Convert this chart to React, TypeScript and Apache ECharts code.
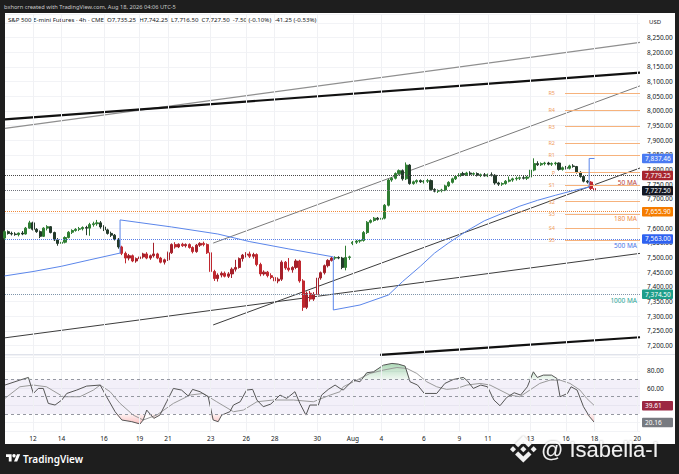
import React, { useEffect, useRef } from "react";
import * as echarts from "echarts";

// ---------------- DATA ----------------
// 4h bars, index 0..166 ; [open, high, low, close]
const ohlc: [number, number, number, number][] = [
  [7566, 7592, 7560, 7588], [7588, 7592, 7578, 7582], [7582, 7588, 7575, 7580], [7580, 7586, 7574, 7578],
  [7578, 7585, 7572, 7583], [7583, 7590, 7576, 7580], [7580, 7604, 7578, 7600], [7600, 7625, 7598, 7618],
  [7618, 7622, 7592, 7596], [7596, 7600, 7584, 7588], [7588, 7592, 7566, 7572], [7572, 7603, 7570, 7600],
  [7600, 7610, 7592, 7605], [7605, 7607, 7582, 7585], [7585, 7588, 7556, 7560], [7560, 7566, 7540, 7548],
  [7548, 7556, 7532, 7552], [7552, 7572, 7548, 7568], [7568, 7590, 7565, 7586], [7586, 7596, 7580, 7592],
  [7592, 7600, 7588, 7596], [7596, 7604, 7590, 7598], [7598, 7606, 7592, 7602], [7602, 7608, 7576, 7600],
  [7600, 7618, 7574, 7612], [7612, 7622, 7605, 7615], [7615, 7628, 7608, 7618], [7618, 7624, 7598, 7604],
  [7604, 7610, 7590, 7594], [7594, 7598, 7578, 7582], [7582, 7588, 7570, 7576], [7576, 7580, 7558, 7562],
  [7562, 7566, 7530, 7536],
  [7536, 7540, 7508, 7514], [7514, 7520, 7480, 7498], [7498, 7512, 7490, 7506], [7506, 7510, 7484, 7488],
  [7488, 7500, 7482, 7496], [7496, 7508, 7488, 7502], [7502, 7516, 7496, 7512], [7512, 7518, 7494, 7498],
  [7498, 7510, 7492, 7506], [7506, 7550, 7500, 7512], [7512, 7516, 7494, 7498], [7498, 7502, 7480, 7484],
  [7484, 7496, 7476, 7492], [7492, 7520, 7488, 7516], [7516, 7548, 7512, 7544], [7544, 7552, 7530, 7536],
  [7536, 7548, 7532, 7545], [7545, 7550, 7536, 7540], [7540, 7548, 7534, 7544], [7544, 7548, 7530, 7534],
  [7534, 7538, 7514, 7520], [7520, 7546, 7516, 7542], [7542, 7552, 7536, 7548], [7548, 7554, 7538, 7544],
  [7544, 7548, 7512, 7516], [7516, 7520, 7446, 7452], [7452, 7458, 7420, 7428], [7428, 7446, 7418, 7440],
  [7440, 7452, 7432, 7446], [7446, 7452, 7432, 7436], [7436, 7450, 7430, 7444], [7444, 7466, 7430, 7460],
  [7460, 7492, 7452, 7466], [7466, 7500, 7462, 7496], [7496, 7512, 7486, 7508], [7508, 7518, 7500, 7512],
  [7512, 7520, 7498, 7504], [7504, 7516, 7496, 7510], [7510, 7514, 7470, 7476], [7476, 7482, 7436, 7444],
  [7444, 7456, 7438, 7450], [7450, 7454, 7432, 7438], [7438, 7446, 7426, 7432], [7432, 7438, 7414, 7420],
  [7420, 7432, 7412, 7426], [7426, 7490, 7420, 7484], [7484, 7488, 7458, 7464], [7464, 7498, 7452, 7458],
  [7458, 7470, 7448, 7466], [7466, 7494, 7460, 7488], [7488, 7492, 7414, 7420], [7420, 7426, 7318, 7330],
  [7330, 7384, 7324, 7378], [7378, 7386, 7350, 7358], [7358, 7382, 7352, 7374], [7374, 7436, 7368, 7430],
  [7430, 7452, 7424, 7448], [7448, 7476, 7442, 7472], [7472, 7494, 7466, 7490], [7490, 7502, 7486, 7498],
  [7498, 7504, 7492, 7500], [7500, 7504, 7494, 7498], [7498, 7502, 7460, 7466], [7466, 7540, 7456, 7500],
  [7500, 7506, 7492, 7502], [7548, 7556, 7542, 7552], [7552, 7560, 7546, 7556], [7556, 7562, 7550, 7558],
  [7558, 7590, 7554, 7585], [7585, 7624, 7580, 7620], [7620, 7630, 7616, 7626], [7626, 7638, 7622, 7634],
  [7634, 7638, 7626, 7630], [7630, 7638, 7624, 7634], [7634, 7682, 7630, 7678], [7678, 7768, 7674, 7764],
  [7764, 7774, 7758, 7770], [7770, 7790, 7766, 7786], [7786, 7800, 7782, 7796], [7796, 7800, 7762, 7768],
  [7768, 7824, 7764, 7815], [7815, 7818, 7748, 7752], [7752, 7762, 7748, 7758], [7758, 7766, 7752, 7762],
  [7762, 7766, 7754, 7758], [7758, 7764, 7752, 7760], [7760, 7768, 7754, 7762], [7762, 7766, 7728, 7732],
  [7732, 7736, 7722, 7726], [7726, 7732, 7720, 7728], [7728, 7734, 7722, 7730], [7730, 7748, 7726, 7744],
  [7744, 7760, 7740, 7756], [7756, 7772, 7752, 7768], [7768, 7780, 7764, 7776], [7776, 7790, 7772, 7786],
  [7786, 7792, 7778, 7782], [7782, 7792, 7778, 7788], [7788, 7794, 7780, 7784], [7784, 7790, 7778, 7786],
  [7786, 7790, 7776, 7780], [7780, 7786, 7774, 7782], [7782, 7788, 7776, 7778], [7778, 7786, 7774, 7782],
  [7782, 7790, 7776, 7780], [7780, 7784, 7748, 7754], [7754, 7758, 7744, 7750], [7750, 7756, 7744, 7752],
  [7752, 7764, 7748, 7760], [7760, 7776, 7756, 7764], [7764, 7772, 7758, 7768], [7768, 7776, 7762, 7770],
  [7770, 7776, 7764, 7772], [7772, 7778, 7766, 7770], [7770, 7778, 7764, 7774], [7774, 7800, 7770, 7798],
  [7798, 7838, 7794, 7820], [7820, 7828, 7812, 7816], [7816, 7824, 7812, 7820], [7820, 7826, 7814, 7822],
  [7822, 7826, 7814, 7818], [7818, 7824, 7812, 7820], [7820, 7826, 7814, 7822], [7822, 7824, 7796, 7800],
  [7800, 7810, 7796, 7806], [7806, 7812, 7800, 7804], [7804, 7816, 7800, 7812], [7812, 7818, 7806, 7810],
  [7810, 7812, 7786, 7790], [7790, 7794, 7772, 7776], [7776, 7780, 7756, 7760], [7760, 7764, 7752, 7757],
  [7757, 7760, 7730, 7735.25], [7735.25, 7742.25, 7716.5, 7727.5],
];
// bars painted in the bearish regime colour
const redRanges: [number, number][] = [[33, 92], [165, 166]];

// trailing (stop) line, [bar, price]
const trailLine: [number, number][] = [
  [0, 7437], [8, 7452], [16, 7470], [24, 7492], [32.5, 7515], [32.5, 7628], [47, 7604], [60, 7580],
  [69, 7554], [80, 7529], [92.5, 7502], [92.5, 7321], [100, 7338], [108, 7372], [112, 7418], [117, 7470],
  [121, 7515], [125, 7550], [130, 7590], [135, 7625], [140, 7650], [145, 7675], [150, 7695], [155, 7712],
  [160, 7728], [164.5, 7740], [164.5, 7837.46], [166, 7837.46],
];
const trailLast = 7837.46;

// hand-drawn trend lines: [bar, price] end points
const grayTopLine: [number, number][] = [[0.1, 7940], [178.8, 8233]];
const blackTopLine: [number, number][] = [[0.1, 7971], [178.8, 8130]];
const channelUpper: [number, number][] = [[58.7, 7549], [178.8, 8085]];
const channelLower: [number, number][] = [[58.7, 7270], [178.8, 7805]];
const lowerTrend: [number, number][] = [[0.1, 7226], [178.8, 7514]];
const blackBottomLine: [number, number][] = [[105.7, 7168], [178.8, 7228]];

// moving averages / price lines
const maNames = ["50 MA", "180 MA", "500 MA", "1000 MA"];
const maValues = [7779.25, 7655.9, 7563.0, 7374.5];
const lastPrice = 7727.5;

// pivot points
const pivotNames = ["R5", "R4", "R3", "R2", "R1", "P", "S1", "S2", "S3", "S4", "S5"];
const pivotValues = [8060, 8003, 7946, 7891, 7848, 7789, 7747, 7690, 7647, 7600, 7559];
const pivotStartBar = 157.7;

// price axis
const priceTicks = [7200, 7250, 7300, 7350, 7400, 7450, 7500, 7550, 7600, 7650, 7700, 7750, 7800, 7850,
  7900, 7950, 8000, 8050, 8100, 8150, 8200, 8250];
const priceMin = 7160;
const priceMax = 8330;

// time axis
const dateLabelIdx = [8, 16, 28, 38, 46, 58, 68, 76, 88, 98, 106, 118, 128, 136, 148, 158, 166, 178];
const dateLabels = ["12", "14", "16", "19", "21", "23", "26", "28", "30", "Aug", "4", "6", "9", "11", "13", "16", "18", "20"];
const barMin = 0.12;
const barMax = 178.8;

// RSI [bar, value]
const rsiLine: [number, number][] = [
  [0.1, 63.5], [4.3, 69.2], [6.7, 72.3], [8.1, 53.8], [9.5, 59.6], [10.9, 59.6], [12.3, 42.3], [14.2, 40.4],
  [16.1, 46.2], [17.5, 53.8], [20.3, 57.7], [23.1, 62.3], [26.9, 63.5], [28.7, 50], [31.1, 32.7], [33, 23.1],
  [35.8, 21.2], [38.1, 18.5], [39, 23.1], [40, 34.6], [42, 25], [43.7, 28.8], [45.6, 44.2], [47.5, 59.6],
  [49.8, 57.7], [51.7, 50.8], [52.9, 58.5], [55, 55.8], [57.3, 50], [58.7, 23.1], [60.1, 21.2], [61.1, 28.8],
  [63.4, 32.7], [64.4, 40.4], [66.3, 44.2], [68.1, 57.7], [69.8, 58.5], [71, 46.2], [72.8, 38.5], [74.9, 41.5],
  [77.5, 51.9], [79.4, 48.1], [81.7, 55.8], [83.1, 42.3], [84.8, 28.8], [85.9, 40.4], [88.3, 40.4], [89.2, 51.9],
  [91.1, 58.5], [93, 63.5], [94.4, 59.6], [95.3, 57.7], [98.1, 69.2], [100, 67.3], [101.9, 77.7], [103.8, 78.8],
  [106.6, 86.5], [109, 88.5], [110.8, 87.7], [112.7, 85.4], [114.1, 67.3], [116.2, 63.5], [118.1, 53.8],
  [121.6, 53.8], [123.9, 65.4], [126.3, 70], [129.1, 72.3], [130.2, 68.5], [131.9, 59.6], [134, 63.5],
  [135.9, 61.5], [137.7, 46.2], [139.4, 39.6], [141.3, 49.2], [143.4, 54.6], [145.2, 51.9], [147.1, 61.5],
  [148.8, 78.8], [149.9, 72.3], [151.6, 75], [153.9, 75], [155.4, 71.2], [156.3, 50], [158.4, 53.8],
  [159.4, 61.5], [161.1, 57.7], [162.9, 38.5], [164.6, 26.9], [166, 20.16],
];
const rsiSignal: [number, number][] = [
  [0.1, 48.1], [4.3, 61.5], [8.1, 63.5], [11.8, 61.5], [16.5, 50], [21.2, 50], [25, 57.7], [26.9, 63.5],
  [29.7, 55.8], [32.5, 42.3], [36.2, 28.8], [39, 23.1], [42.8, 28.8], [47.5, 42.3], [52.2, 51.9], [55.9, 53.8],
  [59.7, 44.2], [64.4, 32.7], [67.2, 34.6], [71, 44.2], [75.6, 46.2], [81.3, 46.2], [86.9, 44.2], [91.6, 51.9],
  [94.4, 55.8], [95.3, 61.5], [99.1, 69.2], [102.8, 76.9], [106.6, 80.8], [110.4, 83.8], [113.2, 82.7],
  [116, 76.9], [118.8, 67.3], [121.6, 61.5], [124.4, 58.5], [127.2, 59.6], [130.1, 63.5], [133.8, 65.4],
  [136.6, 63.5], [139.4, 57.7], [142.2, 51.9], [145, 50], [147.8, 57.7], [150.6, 65.4], [153.5, 69.2],
  [156.3, 69.2], [159.1, 65.4], [161.9, 57.7], [163.8, 48.1], [166, 39.61],
];
const rsiLevels = [70, 50, 30];
const rsiTicks = [60, 80];
const rsiLast = 20.16;
const rsiSignalLast = 39.61;

// ---------------- SHAPES ----------------
const BINANCE_D =
  "M38.73 53.2L63.32 28.62L87.92 53.22L102.22 38.91L63.32 0L24.42 38.9L38.73 53.2ZM0 63.31L14.3 49L28.61 63.31L14.3 77.61ZM38.73 73.41L63.32 98L87.92 73.4L102.23 87.69L63.33 126.6L24.42 87.72L38.73 73.41ZM98.28 63.31L112.58 49L126.89 63.3L112.58 77.62ZM77.83 63.3L63.32 48.78L48.81 63.3L63.32 77.82Z";
const TV_D = "M14 22H7V11H0V4h14v18zM28 22h-8l7.5-18h8L28 22z";
echarts.graphic.registerShape("binanceLogo", echarts.graphic.extendPath(BINANCE_D, {}) as any);
echarts.graphic.registerShape("tvLogo", echarts.graphic.extendPath(TV_D, {}) as any);

const FONT = "'Noto Sans', 'DejaVu Sans', sans-serif";
const WM_FONT = "'Liberation Sans', Arial, sans-serif";
const fmt = (v: number) =>
  v.toLocaleString("en-US", { minimumFractionDigits: 2, maximumFractionDigits: 2 });

function isRed(i: number) {
  return redRanges.some(([a, b]) => i >= a && i <= b);
}

const HIDDEN_LINE = { color: "rgba(0,0,0,0)", width: 0 };

function buildOption() {
  const bull: number[][] = [];
  const bear: number[][] = [];
  ohlc.forEach(([o, h, l, c], i) => {
    (isRed(i) ? bear : bull).push([i, o, c, l, h]);
  });

  const boxLabel = (text: string, bg: string) => ({
    show: true,
    position: "end",
    formatter: text,
    backgroundColor: bg,
    color: "#ffffff",
    fontSize: 6.5,
    fontFamily: FONT,
    padding: [1.5, 3, 1, 3],
    width: 25,
    borderRadius: 1,
    distance: 2,
    opacity: 1,
  });

  const maBoxColors = ["#a8262f", "#f57c00", "#2f62f0", "#1e9e8a"];
  const maTextColors = ["#b84040", "#ee8a45", "#4d75e6", "#2aa596"];
  const maLineColors = ["#474747", "#f08a3c", "#5a7fe8", "#7f95aa"];

  const hLine = (v: number, color: string) => ({
    yAxis: v,
    lineStyle: { color, type: "dotted", width: 1 },
  });

  const levelMarks: any[] = [];
  maValues.forEach((v, k) => {
    levelMarks.push({ ...hLine(v, maLineColors[k]), label: boxLabel(fmt(v), maBoxColors[k]) });
    levelMarks.push({
      yAxis: v,
      lineStyle: HIDDEN_LINE,
      label: {
        show: true,
        position: "insideEndBottom",
        formatter: maNames[k],
        color: maTextColors[k],
        fontSize: 6.5,
        fontFamily: FONT,
        distance: 3,
        opacity: 1,
      },
    });
  });
  levelMarks.push({ ...hLine(lastPrice, "#70737c"), label: boxLabel(fmt(lastPrice), "#131722") });
  levelMarks.push({ yAxis: trailLast, lineStyle: HIDDEN_LINE, label: boxLabel(fmt(trailLast), "#4b7bf2") });

  const pivotMarks = pivotValues.map((v, k) => [
    {
      coord: [pivotStartBar, v],
      lineStyle: { color: "#f6b27c", width: 1, type: "solid" },
      label: {
        show: true,
        position: "start",
        formatter: pivotNames[k],
        color: "#f0a060",
        fontSize: 5.5,
        fontFamily: FONT,
        distance: 10,
      },
    },
    { coord: [barMax, v] },
  ]);

  const vGrid = (gridIdx: number) => ({
    type: "line",
    xAxisIndex: gridIdx,
    yAxisIndex: gridIdx,
    data: [],
    z: 0,
    silent: true,
    markLine: {
      silent: true,
      symbol: ["none", "none"],
      label: { show: false },
      lineStyle: { color: "#f0f1f4", type: "solid", width: 1 },
      data: dateLabelIdx.map((i) => ({ xAxis: i })),
    },
  });

  const trend = (data: [number, number][], color: string, width: number) => ({
    type: "line",
    xAxisIndex: 0,
    yAxisIndex: 0,
    data,
    symbol: "none",
    silent: true,
    z: 3,
    lineStyle: { color, width },
  });

  return {
    animation: false,
    textStyle: { fontFamily: FONT },
    grid: [
      { left: 5, right: 39, top: 14, height: 343.2 },
      { left: 5, right: 39, top: 355.2, height: 76.15 },
    ],
    xAxis: [
      {
        type: "value", gridIndex: 0, min: barMin, max: barMax,
        axisLine: { show: false }, axisTick: { show: false }, axisLabel: { show: false }, splitLine: { show: false },
      },
      {
        type: "value", gridIndex: 1, min: barMin, max: barMax,
        axisLine: { show: false }, axisTick: { show: false }, splitLine: { show: false },
        axisLabel: {
          customValues: dateLabelIdx,
          formatter: (v: number) => {
            const k = dateLabelIdx.indexOf(Math.round(v));
            return k >= 0 ? dateLabels[k] : "";
          },
          color: "#131722", fontSize: 6.5, fontFamily: FONT, margin: 4,
          showMinLabel: true, showMaxLabel: true,
        },
      },
    ],
    yAxis: [
      {
        type: "value", gridIndex: 0, position: "right", min: priceMin, max: priceMax,
        minInterval: 50, maxInterval: 50,
        axisLine: { show: false }, axisTick: { show: false },
        splitLine: { lineStyle: { color: "#f2f3f6", width: 1 } },
        axisLabel: {
          customValues: priceTicks,
          formatter: (v: number) => fmt(v),
          color: "#131722", fontSize: 6.5, fontFamily: FONT, margin: 7,
        },
      },
      {
        type: "value", gridIndex: 1, position: "right", min: 10, max: 98,
        minInterval: 20, maxInterval: 20,
        axisLine: { show: false }, axisTick: { show: false },
        splitLine: { lineStyle: { color: "#f2f3f6", width: 1 } },
        axisLabel: {
          customValues: rsiTicks,
          formatter: (v: number) => v.toFixed(2),
          color: "#131722", fontSize: 6.5, fontFamily: FONT, margin: 7,
        },
      },
    ],
    series: [
      vGrid(0),
      vGrid(1),
      trend(grayTopLine, "#8f8f8f", 1.2),
      trend(blackTopLine, "#111111", 2.2),
      trend(channelUpper, "#7a7a7a", 1),
      trend(channelLower, "#3c3c3c", 1),
      trend(lowerTrend, "#3c3c3c", 1),
      trend(blackBottomLine, "#111111", 2.2),
      {
        type: "line",
        name: "levels",
        xAxisIndex: 0,
        yAxisIndex: 0,
        data: [],
        z: 6,
        silent: true,
        markLine: {
          silent: true,
          symbol: ["none", "none"],
          data: [...levelMarks, ...pivotMarks],
        },
      },
      {
        type: "candlestick",
        name: "bull",
        xAxisIndex: 0,
        yAxisIndex: 0,
        dimensions: ["x", "open", "close", "lowest", "highest"],
        encode: { x: "x", y: ["open", "close", "lowest", "highest"] },
        data: bull,
        barWidth: 2.6,
        z: 4,
        silent: true,
        itemStyle: {
          color: "#2e7d32", color0: "#233a2a",
          borderColor: "#2e7d32", borderColor0: "#233a2a", borderWidth: 1,
        },
      },
      {
        type: "candlestick",
        name: "bear",
        xAxisIndex: 0,
        yAxisIndex: 0,
        dimensions: ["x", "open", "close", "lowest", "highest"],
        encode: { x: "x", y: ["open", "close", "lowest", "highest"] },
        data: bear,
        barWidth: 2.6,
        z: 4,
        silent: true,
        itemStyle: {
          color: "#a5202a", color0: "#c0282f",
          borderColor: "#a5202a", borderColor0: "#c0282f", borderWidth: 1,
        },
      },
      {
        type: "line",
        name: "trail",
        xAxisIndex: 0,
        yAxisIndex: 0,
        data: trailLine,
        symbol: "none",
        z: 5,
        silent: true,
        lineStyle: { color: "#5b86ea", width: 1 },
      },
      // RSI pane
      {
        type: "line",
        name: "ob",
        xAxisIndex: 1,
        yAxisIndex: 1,
        data: rsiLine.map(([i, v]) => [i, Math.max(v, 70)]),
        symbol: "none",
        silent: true,
        lineStyle: { opacity: 0 },
        areaStyle: {
          origin: 70,
          color: new echarts.graphic.LinearGradient(0, 0, 0, 1, [
            { offset: 0, color: "rgba(56,160,80,0.6)" },
            { offset: 1, color: "rgba(56,160,80,0.1)" },
          ]),
        },
        z: 2,
      },
      {
        type: "line",
        name: "os",
        xAxisIndex: 1,
        yAxisIndex: 1,
        data: rsiLine.map(([i, v]) => [i, Math.min(v, 30)]),
        symbol: "none",
        silent: true,
        lineStyle: { opacity: 0 },
        areaStyle: {
          origin: 30,
          color: new echarts.graphic.LinearGradient(0, 0, 0, 1, [
            { offset: 0, color: "rgba(240,80,80,0.1)" },
            { offset: 1, color: "rgba(240,80,80,0.5)" },
          ]),
        },
        z: 2,
      },
      {
        type: "line",
        name: "rsiSignal",
        xAxisIndex: 1,
        yAxisIndex: 1,
        data: rsiSignal,
        symbol: "none",
        silent: true,
        z: 3,
        lineStyle: { color: "#9a9a9a", width: 1 },
        markArea: {
          silent: true,
          itemStyle: { color: "rgba(126,87,194,0.09)" },
          data: [[{ yAxis: rsiLevels[2] }, { yAxis: rsiLevels[0] }]],
        },
        markLine: {
          silent: true,
          symbol: ["none", "none"],
          data: [
            ...rsiLevels.map((v) => ({
              yAxis: v,
              lineStyle: { color: "#9598a1", type: [3, 3], width: 1 },
              label: { show: false },
            })),
            { yAxis: rsiSignalLast, lineStyle: HIDDEN_LINE, label: boxLabel(rsiSignalLast.toFixed(2), "#9c2742") },
            { yAxis: rsiLast, lineStyle: HIDDEN_LINE, label: boxLabel(rsiLast.toFixed(2), "#777a80") },
          ],
        },
      },
      {
        type: "line",
        name: "rsi",
        xAxisIndex: 1,
        yAxisIndex: 1,
        data: rsiLine,
        symbol: "none",
        silent: true,
        z: 4,
        lineStyle: { color: "#555555", width: 1 },
      },
    ],
    graphic: [
      {
        type: "text", x: 4, y: 6.5, silent: true,
        style: {
          text: "bxhorn created with TradingView.com, Aug 18, 2026 04:06 UTC-5",
          fill: "#c9c9c9", fontSize: 5.7, fontFamily: FONT, verticalAlign: "middle",
        },
      },
      {
        type: "text", x: 8, y: 19.5, silent: true,
        style: {
          text: "S&P 500 E-mini Futures · 4h · CME  O7,735.25  H7,742.25  L7,716.50  C7,727.50  -7.50 (-0.10%)  -41.25 (-0.53%)",
          fill: "#131722", fontSize: 6.1, fontFamily: FONT, verticalAlign: "middle",
        },
      },
      {
        type: "text", x: 649, y: 22, silent: true,
        style: { text: "USD", fill: "#131722", fontSize: 6, fontFamily: FONT, verticalAlign: "middle" },
      },
      {
        type: "line", silent: true,
        shape: { x1: 5, y1: 354.5, x2: 675, y2: 354.5 },
        style: { stroke: "#e0e3eb", lineWidth: 1 },
      },
      {
        type: "tvLogo", x: 6, y: 452.6, scaleX: 0.4, scaleY: 0.4, silent: true,
        style: { fill: "#ffffff" },
      },
      {
        type: "circle", silent: true,
        shape: { cx: 14, cy: 455.8, r: 1.7 },
        style: { fill: "#ffffff" },
      },
      {
        type: "text", x: 23, y: 459, silent: true,
        style: {
          text: "TradingView", fill: "#ffffff", fontSize: 10, fontWeight: 600,
          fontFamily: FONT, verticalAlign: "middle",
        },
      },
      {
        type: "binanceLogo", x: 510, y: 436, scaleX: 0.21, scaleY: 0.21, silent: true, z: 100,
        style: { fill: "rgba(255,255,255,0.92)", shadowBlur: 2, shadowColor: "rgba(0,0,0,0.45)" },
      },
      {
        type: "text", x: 541, y: 449, silent: true, z: 100,
        style: {
          text: "@ Isabella-I", fill: "rgba(255,255,255,0.92)", fontSize: 22, fontFamily: WM_FONT,
          verticalAlign: "middle", textShadowBlur: 2, textShadowColor: "rgba(0,0,0,0.45)",
        },
      },
    ],
  };
}

export default function App() {
  const ref = useRef<HTMLDivElement>(null);
  useEffect(() => {
    if (!ref.current) return;
    const chart = echarts.init(ref.current, null, { renderer: "svg" });
    chart.setOption(buildOption() as any);
    return () => chart.dispose();
  }, []);
  return (
    <div
      style={{
        position: "fixed", left: 0, top: 0, width: 679, height: 474,
        background: "#1e1e1e", overflow: "hidden",
      }}
    >
      <div style={{ position: "absolute", left: 5, top: 13, width: 670, height: 431, background: "#ffffff" }} />
      <div ref={ref} style={{ position: "absolute", left: 0, top: 0, width: 679, height: 474 }} />
    </div>
  );
}
